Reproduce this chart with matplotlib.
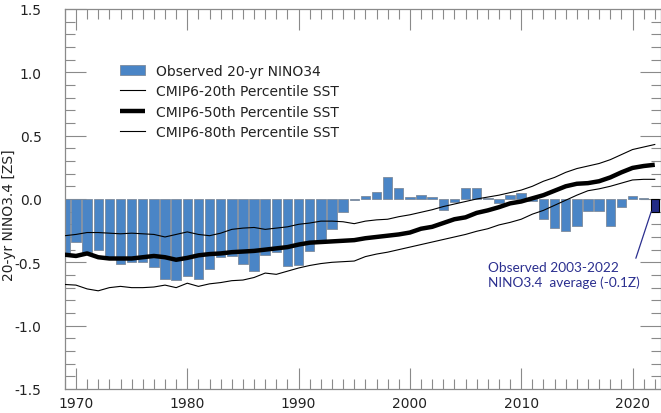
import numpy as np
import matplotlib
matplotlib.use("Agg")
import matplotlib.pyplot as plt
from matplotlib.ticker import MultipleLocator, FormatStrFormatter

# ─── Data ─────────────────────────────────────────────────────────────────────
years = np.arange(1969, 2023)

# observed 20-yr running NINO3.4 (last entry = 2003-2022 window)
obs_nino34 = [-0.45, -0.34, -0.42, -0.40, -0.47, -0.51, -0.50, -0.50, -0.54, -0.63,
              -0.64, -0.61, -0.63, -0.55, -0.46, -0.45, -0.51, -0.57, -0.44, -0.42,
              -0.53, -0.52, -0.41, -0.32, -0.24, -0.105, -0.005, 0.024, 0.053, 0.17,
              0.09, 0.015, 0.028, 0.015, -0.084, -0.026, 0.084, 0.087, 0.008, -0.034,
              0.03, 0.045, -0.02, -0.16, -0.23, -0.25, -0.21, -0.092, -0.092, -0.21,
              -0.06, 0.026, 0.01, -0.1]

cmip6_p20 = [-0.675, -0.68, -0.71, -0.725, -0.70, -0.69, -0.70, -0.70, -0.695, -0.68,
             -0.70, -0.665, -0.69, -0.67, -0.66, -0.645, -0.64, -0.62, -0.585, -0.595,
             -0.57, -0.545, -0.525, -0.51, -0.50, -0.495, -0.49, -0.455, -0.435, -0.42,
             -0.40, -0.38, -0.36, -0.34, -0.32, -0.30, -0.28, -0.255, -0.235, -0.205,
             -0.185, -0.16, -0.12, -0.09, -0.05, -0.01, 0.03, 0.065, 0.08, 0.10,
             0.125, 0.15, 0.155, 0.155]

cmip6_p50 = [-0.44, -0.45, -0.43, -0.46, -0.47, -0.47, -0.47, -0.46, -0.45, -0.46,
             -0.48, -0.465, -0.445, -0.435, -0.43, -0.42, -0.415, -0.41, -0.40, -0.39,
             -0.38, -0.36, -0.345, -0.34, -0.335, -0.33, -0.325, -0.31, -0.30, -0.29,
             -0.28, -0.265, -0.235, -0.22, -0.19, -0.16, -0.145, -0.11, -0.09, -0.065,
             -0.035, -0.02, 0.005, 0.03, 0.065, 0.10, 0.12, 0.125, 0.14, 0.17,
             0.21, 0.245, 0.26, 0.27]

cmip6_p80 = [-0.29, -0.28, -0.265, -0.265, -0.27, -0.275, -0.27, -0.275, -0.28, -0.30,
             -0.28, -0.26, -0.28, -0.29, -0.27, -0.24, -0.23, -0.225, -0.24, -0.23,
             -0.22, -0.20, -0.19, -0.175, -0.175, -0.18, -0.195, -0.175, -0.165, -0.16,
             -0.14, -0.125, -0.105, -0.085, -0.06, -0.04, -0.02, 0.0, 0.015, 0.03,
             0.05, 0.07, 0.10, 0.14, 0.17, 0.21, 0.24, 0.26, 0.28, 0.31,
             0.35, 0.39, 0.41, 0.43]

BAR_BLUE  = '#4a85c6'
DARK_BLUE = '#222c86'
NAVY_TEXT = '#2b2f8f'
GREY      = '#8a8a8a'

# ─── Figure ───────────────────────────────────────────────────────────────────
fig = plt.figure(figsize=(6.61, 4.14), dpi=100)
ax = fig.add_axes([0.0976, 0.058, 1 - 0.0976, 0.918])

obs = np.array(obs_nino34)
bars = ax.bar(years[:-1], obs[:-1], width=0.85, color=BAR_BLUE,
              edgecolor='#7d8b9c', lw=0.6, zorder=2)
ax.bar(years[-1], obs[-1], width=0.68, color=DARK_BLUE,
       edgecolor='black', lw=0.8, zorder=2)

l20, = ax.plot(years, cmip6_p20, color='black', lw=0.8, zorder=3)
l50, = ax.plot(years, cmip6_p50, color='black', lw=3.2,
               solid_capstyle='butt', zorder=3)
l80, = ax.plot(years, cmip6_p80, color='black', lw=0.8, zorder=3)

ax.annotate("Observed 2003-2022\nNINO3.4  average (-0.1Z)",
            xy=(years[-1] - 0.32, obs[-1]), xytext=(2007.0, -0.49),
            ha='left', va='top', fontsize=9.8, family='Lato', color=NAVY_TEXT,
            linespacing=1.2,
            arrowprops=dict(arrowstyle='-', color=NAVY_TEXT, lw=0.9,
                            shrinkA=0, shrinkB=0, relpos=(0.965, 0.92)))

# ─── Axes styling ─────────────────────────────────────────────────────────────
ax.set_xlim(1968.97, 2022.56)
ax.set_ylim(-1.5, 1.5)
ax.xaxis.set_major_locator(MultipleLocator(10))
ax.xaxis.set_minor_locator(MultipleLocator(1))
ax.yaxis.set_major_locator(MultipleLocator(0.5))
ax.yaxis.set_minor_locator(MultipleLocator(0.1))
ax.yaxis.set_major_formatter(FormatStrFormatter('%.1f'))

ax.tick_params(which='both', direction='in', top=True, right=True,
               color=GREY, width=0.8, labelsize=10, labelcolor='#222222')
ax.tick_params(which='major', length=15)
ax.tick_params(which='minor', length=7.5)
ax.tick_params(axis='y', which='major', pad=16.5)
ax.tick_params(axis='x', which='major', pad=5)
for sp in ax.spines.values():
    sp.set_color(GREY)
    sp.set_linewidth(0.9)

ax.set_ylabel("20-yr NINO3.4 [ZS]", fontsize=10, color='#222222')
ax.yaxis.set_label_coords(-0.081, 0.46)

ax.legend([bars, l20, l50, l80],
          ['Observed 20-yr NINO34', 'CMIP6-20th Percentile SST',
           'CMIP6-50th Percentile SST', 'CMIP6-80th Percentile SST'],
          loc='upper left', bbox_to_anchor=(0.093, 0.855), frameon=False,
          fontsize=10, borderpad=0, borderaxespad=0, labelspacing=0.45,
          handlelength=1.8, handletextpad=0.8, labelcolor='#222222')

plt.savefig("out.png", dpi=100)
